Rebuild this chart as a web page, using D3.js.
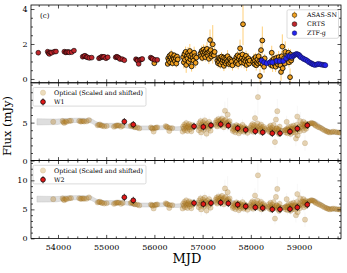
<!DOCTYPE html>
<html>
<head>
<meta charset="utf-8">
<script src="https://cdn.jsdelivr.net/npm/d3@7"></script>
<style>
  body { margin: 0; background: #fff; }
  svg text { font-family: "DejaVu Serif", serif; fill: #000; }
</style>
</head>
<body>
<svg id="chart" width="347" height="273"></svg>
<script>
// ---- data ----
// CRTS: [MJD, flux mJy]
const crts = [
  [53591, 1.50],
  [53786, 1.56], [53805, 1.48], [53820, 1.43], [53845, 1.52], [53869, 1.50], [53923, 1.56], [53959, 1.57],
  [54131, 1.56], [54160, 1.52], [54180, 1.53], [54210, 1.55], [54234, 1.52], [54284, 1.53], [54332, 1.62],
  [54512, 1.27], [54540, 1.30], [54560, 1.33], [54590, 1.26], [54608, 1.24], [54650, 1.20], [54699, 1.22],
  [54851, 1.18], [54880, 1.22], [54907, 1.27], [54930, 1.25], [54954, 1.27], [54996, 1.18], [55031, 1.24],
  [55197, 1.24], [55220, 1.27], [55239, 1.24], [55265, 1.20], [55286, 1.14], [55334, 1.13], [55376, 1.07],
  [55618, 1.13], [55640, 1.08], [55653, 1.05], [55674, 0.86], [55701, 1.09], [55725, 1.12], [55749, 1.14],
  [55923, 1.22], [55945, 1.18], [55965, 1.14], [56012, 1.09], [56060, 1.09]
];

// ASAS-SN: [MJD, flux, error]
const asassn = [
  [55998, 0.90, 0.10], [56276, 0.86, 0.10],
  [56285, 1.18, 0.12], [56300, 1.05, 0.15], [56312, 1.32, 0.20], [56325, 0.95, 0.18], [56338, 1.22, 0.10],
  [56350, 1.42, 0.25], [56362, 1.10, 0.12], [56375, 0.90, 0.20], [56388, 1.25, 0.15], [56400, 1.15, 0.10],
  [56412, 1.35, 0.18], [56425, 1.02, 0.14], [56440, 1.20, 0.12], [56455, 0.88, 0.22], [56470, 1.28, 0.16],
  [56485, 1.12, 0.10],
  [56595, 1.25, 0.30], [56610, 0.95, 0.35], [56622, 1.42, 0.25], [56635, 1.10, 0.40], [56648, 1.55, 0.30],
  [56660, 0.80, 0.45], [56672, 1.30, 0.20], [56685, 1.18, 0.30], [56698, 1.48, 0.35], [56710, 0.98, 0.25],
  [56722, 1.35, 0.30], [56735, 1.60, 0.40], [56748, 1.12, 0.20], [56760, 1.28, 0.35], [56772, 0.72, 0.30],
  [56785, 1.40, 0.25], [56798, 1.20, 0.30], [56810, 1.05, 0.20], [56825, 1.50, 0.35], [56840, 1.30, 0.25],
  [56855, 0.92, 0.30], [56870, 1.22, 0.20],
  [56955, 1.45, 0.20], [56968, 1.30, 0.25], [56980, 1.60, 0.30], [56992, 1.20, 0.20], [57005, 1.52, 0.25],
  [57018, 1.68, 0.30], [57030, 1.38, 0.20], [57042, 1.55, 0.35], [57055, 1.25, 0.25], [57068, 1.62, 0.30],
  [57080, 1.45, 0.20], [57092, 1.72, 0.40], [57105, 1.35, 0.25], [57118, 1.50, 0.20], [57130, 1.15, 0.30],
  [57142, 1.58, 0.25], [57154, 2.23, 0.60], [57168, 1.65, 0.30], [57180, 1.28, 0.25], [57195, 1.42, 0.20],
  [57210, 1.98, 1.10], [57222, 1.48, 0.20], [57235, 1.35, 0.25], [57250, 1.55, 0.30],
  [57305, 1.05, 0.20], [57318, 0.90, 0.25], [57330, 1.20, 0.20], [57342, 0.98, 0.30], [57355, 1.15, 0.20],
  [57368, 0.82, 0.25], [57380, 1.10, 0.30], [57392, 1.28, 0.25], [57405, 0.95, 0.20], [57418, 1.08, 0.35],
  [57430, 1.22, 0.20], [57442, 0.75, 0.30], [57455, 1.02, 0.20], [57468, 1.18, 0.25], [57480, 0.88, 0.30],
  [57492, 1.12, 0.20], [57505, 0.98, 0.25], [57518, 1.30, 0.35], [57530, 1.05, 0.20], [57545, 0.85, 0.25],
  [57560, 1.15, 0.20], [57575, 0.92, 0.30], [57590, 1.08, 0.25], [57605, 1.00, 0.20], [57620, 0.78, 0.30],
  [57675, 1.10, 0.25], [57688, 0.92, 0.30], [57700, 1.25, 0.20], [57712, 1.00, 0.35], [57725, 1.35, 0.25],
  [57738, 0.85, 0.30], [57750, 1.15, 0.20], [57762, 1.28, 0.30], [57777, 1.75, 0.50], [57790, 1.05, 0.25],
  [57802, 0.95, 0.30], [57815, 1.20, 0.20], [57828, 1.40, 0.35], [57838, 3.13, 1.20], [57850, 1.08, 0.25],
  [57862, 0.90, 0.30], [57875, 1.22, 0.20], [57888, 1.02, 0.25], [57900, 1.32, 0.30], [57912, 0.80, 0.35],
  [57925, 1.12, 0.20], [57938, 0.98, 0.25], [57950, 1.18, 0.30], [57965, 0.88, 0.20], [57978, 1.05, 0.25],
  [58050, 0.98, 0.25], [58062, 1.15, 0.30], [58075, 0.85, 0.20], [58088, 1.05, 0.35], [58100, 1.25, 0.25],
  [58112, 0.78, 0.30], [58125, 0.95, 0.20], [58138, 1.12, 0.30], [58150, 0.88, 0.25], [58162, 1.30, 0.35],
  [58175, 1.00, 0.20], [58191, 0.17, 0.40], [58200, 0.92, 0.30], [58212, 1.65, 0.50], [58225, 1.08, 0.25],
  [58239, 2.20, 0.80], [58250, 0.82, 0.30], [58262, 1.02, 0.20], [58275, 0.70, 0.35], [58288, 1.18, 0.25],
  [58402, 0.95, 0.30], [58415, 0.80, 0.25], [58434, 1.50, 0.40], [58440, 1.05, 0.30], [58452, 0.75, 0.35],
  [58465, 0.98, 0.20], [58478, 1.15, 0.30], [58490, 0.85, 0.25], [58502, 1.02, 0.35], [58515, 0.70, 0.30],
  [58528, 1.20, 0.25], [58540, 0.92, 0.20], [58552, 1.08, 0.30], [58565, 0.82, 0.25], [58578, 1.25, 0.35],
  [58590, 0.95, 0.20], [58602, 1.10, 0.30], [58615, 0.78, 0.25], [58627, 0.40, 0.50], [58640, 1.30, 0.30],
  [58654, 1.85, 0.70], [58662, 0.61, 0.35], [58675, 1.00, 0.25], [58690, 1.18, 0.30], [58705, 0.88, 0.20],
  [58715, 1.55, 0.60],
  [58755, 1.35, 0.30], [58768, 1.10, 0.35], [58780, 1.50, 0.25], [58792, 0.95, 0.30], [58805, 1.25, 0.20],
  [58814, 0.10, 0.50], [58825, 1.40, 0.30], [58838, 1.05, 0.25], [58850, 1.20, 0.30]
];

// ZTF-g: [MJD, flux]
const ztfg = [
  [58226, 1.05], [58275, 0.95], [58330, 0.90], [58400, 0.95],
  [58446, 0.95], [58537, 1.03], [58600, 1.02], [58674, 1.03], [58730, 1.18],
  [58778, 1.31], [58810, 1.30], [58849, 1.27], [58880, 1.33], [58902, 1.37], [58930, 1.40], [58952, 1.43],
  [58975, 1.40], [59000, 1.37], [59020, 1.30], [59041, 1.24], [59080, 1.18], [59110, 1.13], [59145, 1.09],
  [59180, 1.02], [59214, 0.95], [59250, 0.90], [59276, 0.86], [59300, 0.83], [59332, 0.80], [59370, 0.83],
  [59400, 0.86], [59440, 0.84], [59480, 0.81], [59519, 0.80], [59545, 0.79]
];

// WISE epochs and fluxes (mJy)
const wiseMJD = [55376, 55562, 56822, 57015, 57174, 57376, 57533, 57728, 57894, 58093, 58247, 58446, 58606, 58813, 58965, 59172];
const w1Flux = [5.13, 4.74, 4.51, 4.43, 4.64, 4.78, 4.60, 4.25, 4.04, 3.86, 3.72, 3.59, 3.59, 3.82, 4.21, 4.64];
const w2Flux = [7.07, 6.55, 6.09, 5.91, 6.09, 6.15, 6.03, 5.81, 5.52, 5.34, 5.22, 5.00, 5.00, 5.05, 5.34, 5.81];

// smoothed optical band (lag-shifted MJD, optical flux units) and its half width
const bandMJD = [53564, 53979, 54145, 54400, 54664, 54809, 54975, 55200, 55390, 55550, 55701, 55950, 56220,
  56450, 56650, 56900, 57100, 57300, 57450, 57600, 57800, 58000, 58200, 58400, 58600, 58800, 59000, 59100,
  59200, 59280, 59350, 59450, 59550, 59650, 59750, 59871];
const bandFlux = [1.50, 1.50, 1.57, 1.60, 1.58, 1.35, 1.27, 1.27, 1.24, 1.15, 1.10, 1.10, 1.12, 1.05, 1.10,
  1.18, 1.25, 1.35, 1.42, 1.32, 1.10, 1.05, 1.02, 0.95, 0.92, 0.98, 1.05, 1.20, 1.35, 1.42, 1.38, 1.18, 0.95,
  0.84, 0.80, 0.80];
const bandHalf = [0.20, 0.18, 0.15, 0.14, 0.14, 0.14, 0.13, 0.13, 0.13, 0.13, 0.13, 0.13, 0.13, 0.12, 0.12,
  0.12, 0.12, 0.12, 0.12, 0.12, 0.12, 0.12, 0.12, 0.12, 0.12, 0.12, 0.12, 0.12, 0.12, 0.12, 0.12, 0.12, 0.12,
  0.12, 0.12, 0.12];

// optical shifted by the lag and scaled onto each WISE band
const lagDays = 310;
const w1Scale = [2.0, 2.1];
const w2Scale = [2.52, 2.98];

const xTicks = [54000, 55000, 56000, 57000, 58000, 59000];

// ---- layout ----
const svg = d3.select("#chart");
const X0 = 31, X1 = 341, PH = 77.8;
const x = d3.scaleLinear().domain([53440, 59871]).range([X0, X1]);

const panels = [
  { top: 5, domain: [-0.22, 4.23], ticks: [0, 2, 4], minor: 0.5 },
  { top: 82.8, domain: [0, 10.24], ticks: [0, 5], minor: 1 },
  { top: 160.6, domain: [0, 13.4], ticks: [0, 5, 10], minor: 1 }
];
panels.forEach((p, i) => {
  p.y = d3.scaleLinear().domain(p.domain).range([p.top + PH, p.top]);
  p.g = svg.append("g");
  svg.append("clipPath").attr("id", "clip" + i)
    .append("rect").attr("x", X0).attr("y", p.top).attr("width", X1 - X0).attr("height", PH);
  p.plot = p.g.append("g").attr("clip-path", `url(#clip${i})`);
});

const optical = [
  ...crts.map(d => [d[0], d[1], 0.06]),
  ...asassn,
  ...ztfg.map(d => [d[0], d[1], 0.03])
];

const C = {
  asas: "#f0a020", asasErr: "#ffb93a", crts: "#c0262c", ztf: "#2424ee", ztfEdge: "#10104a",
  wise: "#e01818"
};

// ---- top panel ----
{
  const p = panels[0], y = p.y;
  p.plot.selectAll(".err").data(asassn).join("line")
    .attr("x1", d => x(d[0])).attr("x2", d => x(d[0]))
    .attr("y1", d => y(d[1] - d[2])).attr("y2", d => y(d[1] + d[2]))
    .attr("stroke", C.asasErr).attr("stroke-opacity", 0.85).attr("stroke-width", 0.8);
  p.plot.selectAll(".asas").data(asassn).join("circle")
    .attr("cx", d => x(d[0])).attr("cy", d => y(d[1])).attr("r", 2.4)
    .attr("fill", C.asas).attr("stroke", "#000").attr("stroke-width", 0.8);
  p.plot.selectAll(".crts").data(crts).join("circle")
    .attr("cx", d => x(d[0])).attr("cy", d => y(d[1])).attr("r", 2.4)
    .attr("fill", C.crts).attr("stroke", "#000").attr("stroke-width", 0.6);
  p.plot.selectAll(".ztf").data(ztfg).join("circle")
    .attr("cx", d => x(d[0])).attr("cy", d => y(d[1])).attr("r", 2.5)
    .attr("fill", C.ztf).attr("stroke", C.ztfEdge).attr("stroke-width", 0.6);
  svg.append("text").attr("x", 40).attr("y", 17.5).attr("font-size", 7).text("(c)");
}

// ---- WISE panels ----
function wisePanel(p, scale, flux, label) {
  const y = p.y, f = v => scale[0] * v + scale[1];
  const band = d3.area()
    .x((d, i) => x(bandMJD[i]))
    .y0((d, i) => y(f(bandFlux[i] - bandHalf[i])))
    .y1((d, i) => y(f(bandFlux[i] + bandHalf[i])))
    .curve(d3.curveMonotoneX);
  p.plot.append("path").attr("d", band(bandMJD))
    .attr("fill", "#d6d6d6").attr("fill-opacity", 0.8)
    .attr("stroke", "#c4c4c4").attr("stroke-width", 0.5);
  p.plot.selectAll(".oerr").data(optical).join("line")
    .attr("x1", d => x(d[0] + lagDays)).attr("x2", d => x(d[0] + lagDays))
    .attr("y1", d => y(f(d[1] - d[2]))).attr("y2", d => y(f(d[1] + d[2])))
    .attr("stroke", "#cccccc").attr("stroke-opacity", 0.25).attr("stroke-width", 0.6);
  p.plot.selectAll(".opt").data(optical).join("circle")
    .attr("cx", d => x(d[0] + lagDays)).attr("cy", d => y(f(d[1]))).attr("r", 2.6)
    .attr("fill", "#b88024").attr("fill-opacity", 0.34)
    .attr("stroke", "#7a5418").attr("stroke-opacity", 0.3).attr("stroke-width", 0.5);
  const w = wiseMJD.map((m, i) => [m, flux[i]]);
  p.plot.selectAll(".werr").data(w).join("line")
    .attr("x1", d => x(d[0])).attr("x2", d => x(d[0]))
    .attr("y1", d => y(d[1]) - 3.6).attr("y2", d => y(d[1]) + 3.6)
    .attr("stroke", "#000").attr("stroke-width", 0.7);
  p.plot.selectAll(".w").data(w).join("circle")
    .attr("cx", d => x(d[0])).attr("cy", d => y(d[1])).attr("r", 2.4)
    .attr("fill", C.wise).attr("stroke", "#000").attr("stroke-width", 0.7);

  legend(p.g, 33, p.top + 4.7, 113, 18.6, [
    { label: "Optical (Scaled and shifted)", mark: (g, cx, cy) => g.append("circle")
        .attr("cx", cx).attr("cy", cy).attr("r", 2.6).attr("fill", "#ecdcbc").attr("stroke", "#d8c49c").attr("stroke-width", 0.5) },
    { label: label, mark: (g, cx, cy) => {
        g.append("line").attr("x1", cx).attr("x2", cx).attr("y1", cy - 3.6).attr("y2", cy + 3.6)
          .attr("stroke", "#000").attr("stroke-width", 0.7);
        g.append("circle").attr("cx", cx).attr("cy", cy).attr("r", 2.4)
          .attr("fill", C.wise).attr("stroke", "#000").attr("stroke-width", 0.7);
      } }
  ], 43, 54, 5.2, 9.2);
}

function legend(g, lx, ly, w, h, items, mx, tx, first, step) {
  const lg = g.append("g");
  lg.append("rect").attr("x", lx).attr("y", ly).attr("width", w).attr("height", h).attr("rx", 1.5)
    .attr("fill", "#fff").attr("fill-opacity", 0.8).attr("stroke", "#cccccc").attr("stroke-width", 0.7);
  items.forEach((it, i) => {
    const cy = ly + first + i * step;
    it.mark(lg, mx, cy);
    lg.append("text").attr("x", tx).attr("y", cy).attr("dy", "0.35em").attr("font-size", 6.3).text(it.label);
  });
}

wisePanel(panels[1], w1Scale, w1Flux, "W1");
wisePanel(panels[2], w2Scale, w2Flux, "W2");

// top legend
legend(panels[0].g, 287, 9.8, 51.5, 28.5, [
  { label: "ASAS-SN", mark: (g, cx, cy) => {
      g.append("line").attr("x1", cx).attr("x2", cx).attr("y1", cy - 3.6).attr("y2", cy + 3.6)
        .attr("stroke", C.asasErr).attr("stroke-width", 0.8);
      g.append("circle").attr("cx", cx).attr("cy", cy).attr("r", 2.3)
        .attr("fill", C.asas).attr("stroke", "#000").attr("stroke-width", 0.5);
    } },
  { label: "CRTS", mark: (g, cx, cy) => g.append("circle").attr("cx", cx).attr("cy", cy).attr("r", 2.4)
      .attr("fill", C.crts).attr("stroke", "#000").attr("stroke-width", 0.5) },
  { label: "ZTF-g", mark: (g, cx, cy) => g.append("circle").attr("cx", cx).attr("cy", cy).attr("r", 2.3)
      .attr("fill", C.ztf).attr("stroke", C.ztfEdge).attr("stroke-width", 0.5) }
], 294.5, 307, 5.3, 9);

// ---- axes ----
const xMinor = d3.range(53600, 59871, 200).filter(v => v % 1000 !== 0);
panels.forEach((p, i) => {
  const y = p.y, g = p.g.append("g");
  const yMinor = d3.range(Math.ceil(p.domain[0] / p.minor) * p.minor, p.domain[1], p.minor)
    .filter(v => !p.ticks.some(t => Math.abs(t - v) < 1e-6));
  const yb = p.top + PH, yt = p.top;
  const put = (axis, tr, vals, size, fmt, pad) =>
    g.append("g").attr("transform", tr)
      .call(axis.tickValues(vals).tickSize(-size).tickPadding(pad || 3).tickFormat(fmt));
  const none = () => "";
  put(d3.axisBottom(x), `translate(0,${yb})`, xTicks, 3.5, i === 2 ? d3.format("d") : none, 5.5);
  put(d3.axisBottom(x), `translate(0,${yb})`, xMinor, 2, none);
  put(d3.axisTop(x), `translate(0,${yt})`, xTicks, 3.5, none);
  put(d3.axisTop(x), `translate(0,${yt})`, xMinor, 2, none);
  put(d3.axisLeft(y), `translate(${X0},0)`, p.ticks, 3.5, d3.format("d"), 3.5);
  put(d3.axisLeft(y), `translate(${X0},0)`, yMinor, 2, none);
  put(d3.axisRight(y), `translate(${X1},0)`, p.ticks, 3.5, none);
  put(d3.axisRight(y), `translate(${X1},0)`, yMinor, 2, none);
  g.selectAll(".domain").remove();
  g.selectAll(".tick line").attr("stroke", "#000").attr("stroke-width", 0.7);
  g.selectAll(".tick text").attr("font-size", 8).attr("font-family", "DejaVu Serif").attr("fill", "#000");
  g.append("rect").attr("x", X0).attr("y", yt).attr("width", X1 - X0).attr("height", PH)
    .attr("fill", "none").attr("stroke", "#000").attr("stroke-width", 0.8);
});

// axis titles
svg.append("text").attr("x", 187).attr("y", 263).attr("text-anchor", "middle")
  .attr("font-size", 13).text("MJD");
svg.append("text").attr("transform", "translate(10.5,126) rotate(-90)").attr("text-anchor", "middle")
  .attr("font-size", 11.5).text("Flux (mJy)");
</script>
</body>
</html>
